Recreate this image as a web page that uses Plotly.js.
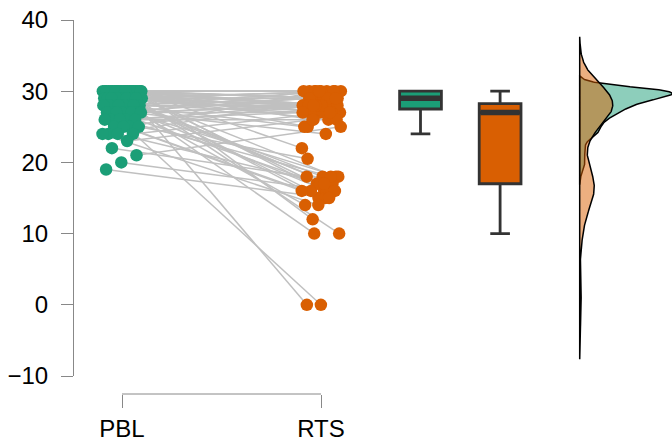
<!DOCTYPE html>
<html><head><meta charset="utf-8">
<script src="https://cdn.plot.ly/plotly-3.0.1.min.js"></script>
<style>html,body{margin:0;padding:0;background:#fff}</style>
</head><body><div id="chart" style="width:672px;height:443px"></div>
<script>
// ---- data ----
const groups = ['PBL', 'RTS'];
const pbl = [
  30,30,30,30,30,30,30,30,30,30,30,30,30,30,30,30,30,30,30,30,30,30,30,30,30,
  29,29,29,29,29,29,29,29,29,29,29,29,29,29,29,
  28,28,28,28,28,28,28,28,28,28,
  27,27,27,27,27,27,27,27,
  26,26,26,26,26,
  25,25,25,25,
  24,24,24,24,
  23,22,21,20,19
];
const rts = [
  30,30,30,30,30,29,29,29,29,28,28,28,28,28,27,27,26,25,22,18,17,16,15,12,0,
  30,30,29,29,28,28,28,27,27,26,18,17,16,14,10,
  30,29,28,28,27,25,18,17,16,0,
  30,29,28,28,27,24,17,10,
  28,27,26,18,15,
  30,28,20.5,16,
  29,27,17,14,
  26,18,25,16,15
];
// box-plot statistics
const boxQ1 = [27.5, 17];
const boxMedian = [29, 27];
const boxQ3 = [30, 28.25];
const boxLower = [24, 10];
const boxUpper = [30, 30];
const bandwidths = [0.71, 2.55];

// ---- styling / layout constants ----
const colors = ['#1b9e77', '#d95f02'];
const densFill = ['rgba(27,158,119,0.5)', 'rgba(217,95,2,0.5)'];
const pointPos = [1, 2];
const boxPos = [2.5, 2.9];
const boxWidth = 0.21;
const densPos = 3.3;
const densMaxWidth = 0.465;
const FONT = 'Liberation Sans, Arial, sans-serif';
const FS = 24;

function jit(i, seed) {
  const f = ((i + 1) * 0.6180339887 + seed) % 1;
  return (f - 0.5) * 0.2;
}

const lx = [], ly = [];
const px = [], rx = [];
for (let i = 0; i < pbl.length; i++) {
  const a = pointPos[0] + jit(i, 0.13);
  const b = pointPos[1] + jit(i * 3 + 1, 0.41);
  px.push(a); rx.push(b);
  lx.push(a, b, null);
  ly.push(pbl[i], rts[i], null);
}

// Gaussian kernel density estimate
function kde(vals, bw) {
  const lo = Math.min(...vals) - 3 * bw, hi = Math.max(...vals) + 3 * bw;
  const N = 512, ys = [], ds = [];
  for (let k = 0; k < N; k++) {
    const y = lo + (hi - lo) * k / (N - 1);
    let s = 0;
    for (const v of vals) { const z = (y - v) / bw; s += Math.exp(-0.5 * z * z); }
    ys.push(y); ds.push(s / (vals.length * bw * Math.sqrt(2 * Math.PI)));
  }
  return {ys, ds};
}
const dens = [kde(pbl, bandwidths[0]), kde(rts, bandwidths[1])];
const maxD = Math.max(...dens.map(d => Math.max(...d.ds)));
const dScale = densMaxWidth / maxD;

const traces = [];
traces.push({type: 'scatter', mode: 'lines', x: lx, y: ly,
  line: {color: '#c0c0c0', width: 1.5}, hoverinfo: 'skip', showlegend: false});
[pbl, rts].forEach((v, g) => {
  traces.push({type: 'scatter', mode: 'markers', x: g === 0 ? px : rx, y: v,
    marker: {color: colors[g], size: 12.5}, showlegend: false, hoverinfo: 'y'});
});
groups.forEach((name, g) => {
  traces.push({type: 'box', name: name, x: [boxPos[g]],
    q1: [boxQ1[g]], median: [boxMedian[g]], q3: [boxQ3[g]],
    lowerfence: [boxLower[g]], upperfence: [boxUpper[g]],
    width: boxWidth, whiskerwidth: 0.47, fillcolor: colors[g],
    line: {color: '#333333', width: 2.8}, boxpoints: false, showlegend: false});
  traces.push({type: 'scatter', mode: 'lines',
    x: [boxPos[g] - boxWidth / 2 + 0.006, boxPos[g] + boxWidth / 2 - 0.006],
    y: [boxMedian[g], boxMedian[g]],
    line: {color: '#333333', width: 5.5}, hoverinfo: 'skip', showlegend: false});
});
dens.forEach((d, g) => {
  const xs = d.ds.map(v => densPos + v * dScale);
  const ys = d.ys.slice();
  xs.push(densPos, densPos); ys.push(d.ys[d.ys.length - 1], d.ys[0]);
  traces.push({type: 'scatter', mode: 'lines', x: xs, y: ys, fill: 'toself',
    fillcolor: densFill[g], line: {color: '#000', width: 1.5},
    hoverinfo: 'skip', showlegend: false});
});

const layout = {
  width: 672, height: 443,
  margin: {l: 74, r: 0, t: 20, b: 49},
  paper_bgcolor: '#fff', plot_bgcolor: '#fff',
  font: {family: FONT, size: FS, color: '#000'},
  boxmode: 'overlay',
  showlegend: false,
  xaxis: {type: 'linear', range: [1 - 48 / 199, 1 + 550 / 199],
    anchor: 'free', position: 0,
    tickvals: pointPos, ticktext: groups, ticks: 'outside', ticklen: 13,
    tickcolor: '#888', tickwidth: 1, showline: false, showgrid: false, zeroline: false,
    tickfont: {family: FONT, size: FS, color: '#000'}},
  yaxis: {domain: [18 / 374, 1], range: [-10, 40], tickvals: [-10, 0, 10, 20, 30, 40],
    ticks: 'outside', ticklen: 12, tickcolor: '#888', tickwidth: 1,
    showline: true, linecolor: '#888', linewidth: 1,
    showgrid: false, zeroline: false, ticklabelstandoff: 8,
    tickfont: {family: FONT, size: FS, color: '#000'}},
  shapes: [{type: 'line', xref: 'x', yref: 'paper', x0: pointPos[0], x1: pointPos[1],
    y0: 0, y1: 0, line: {color: '#888', width: 1}}]
};
Plotly.newPlot('chart', traces, layout, {displayModeBar: false, staticPlot: true});
</script>
</body></html>
